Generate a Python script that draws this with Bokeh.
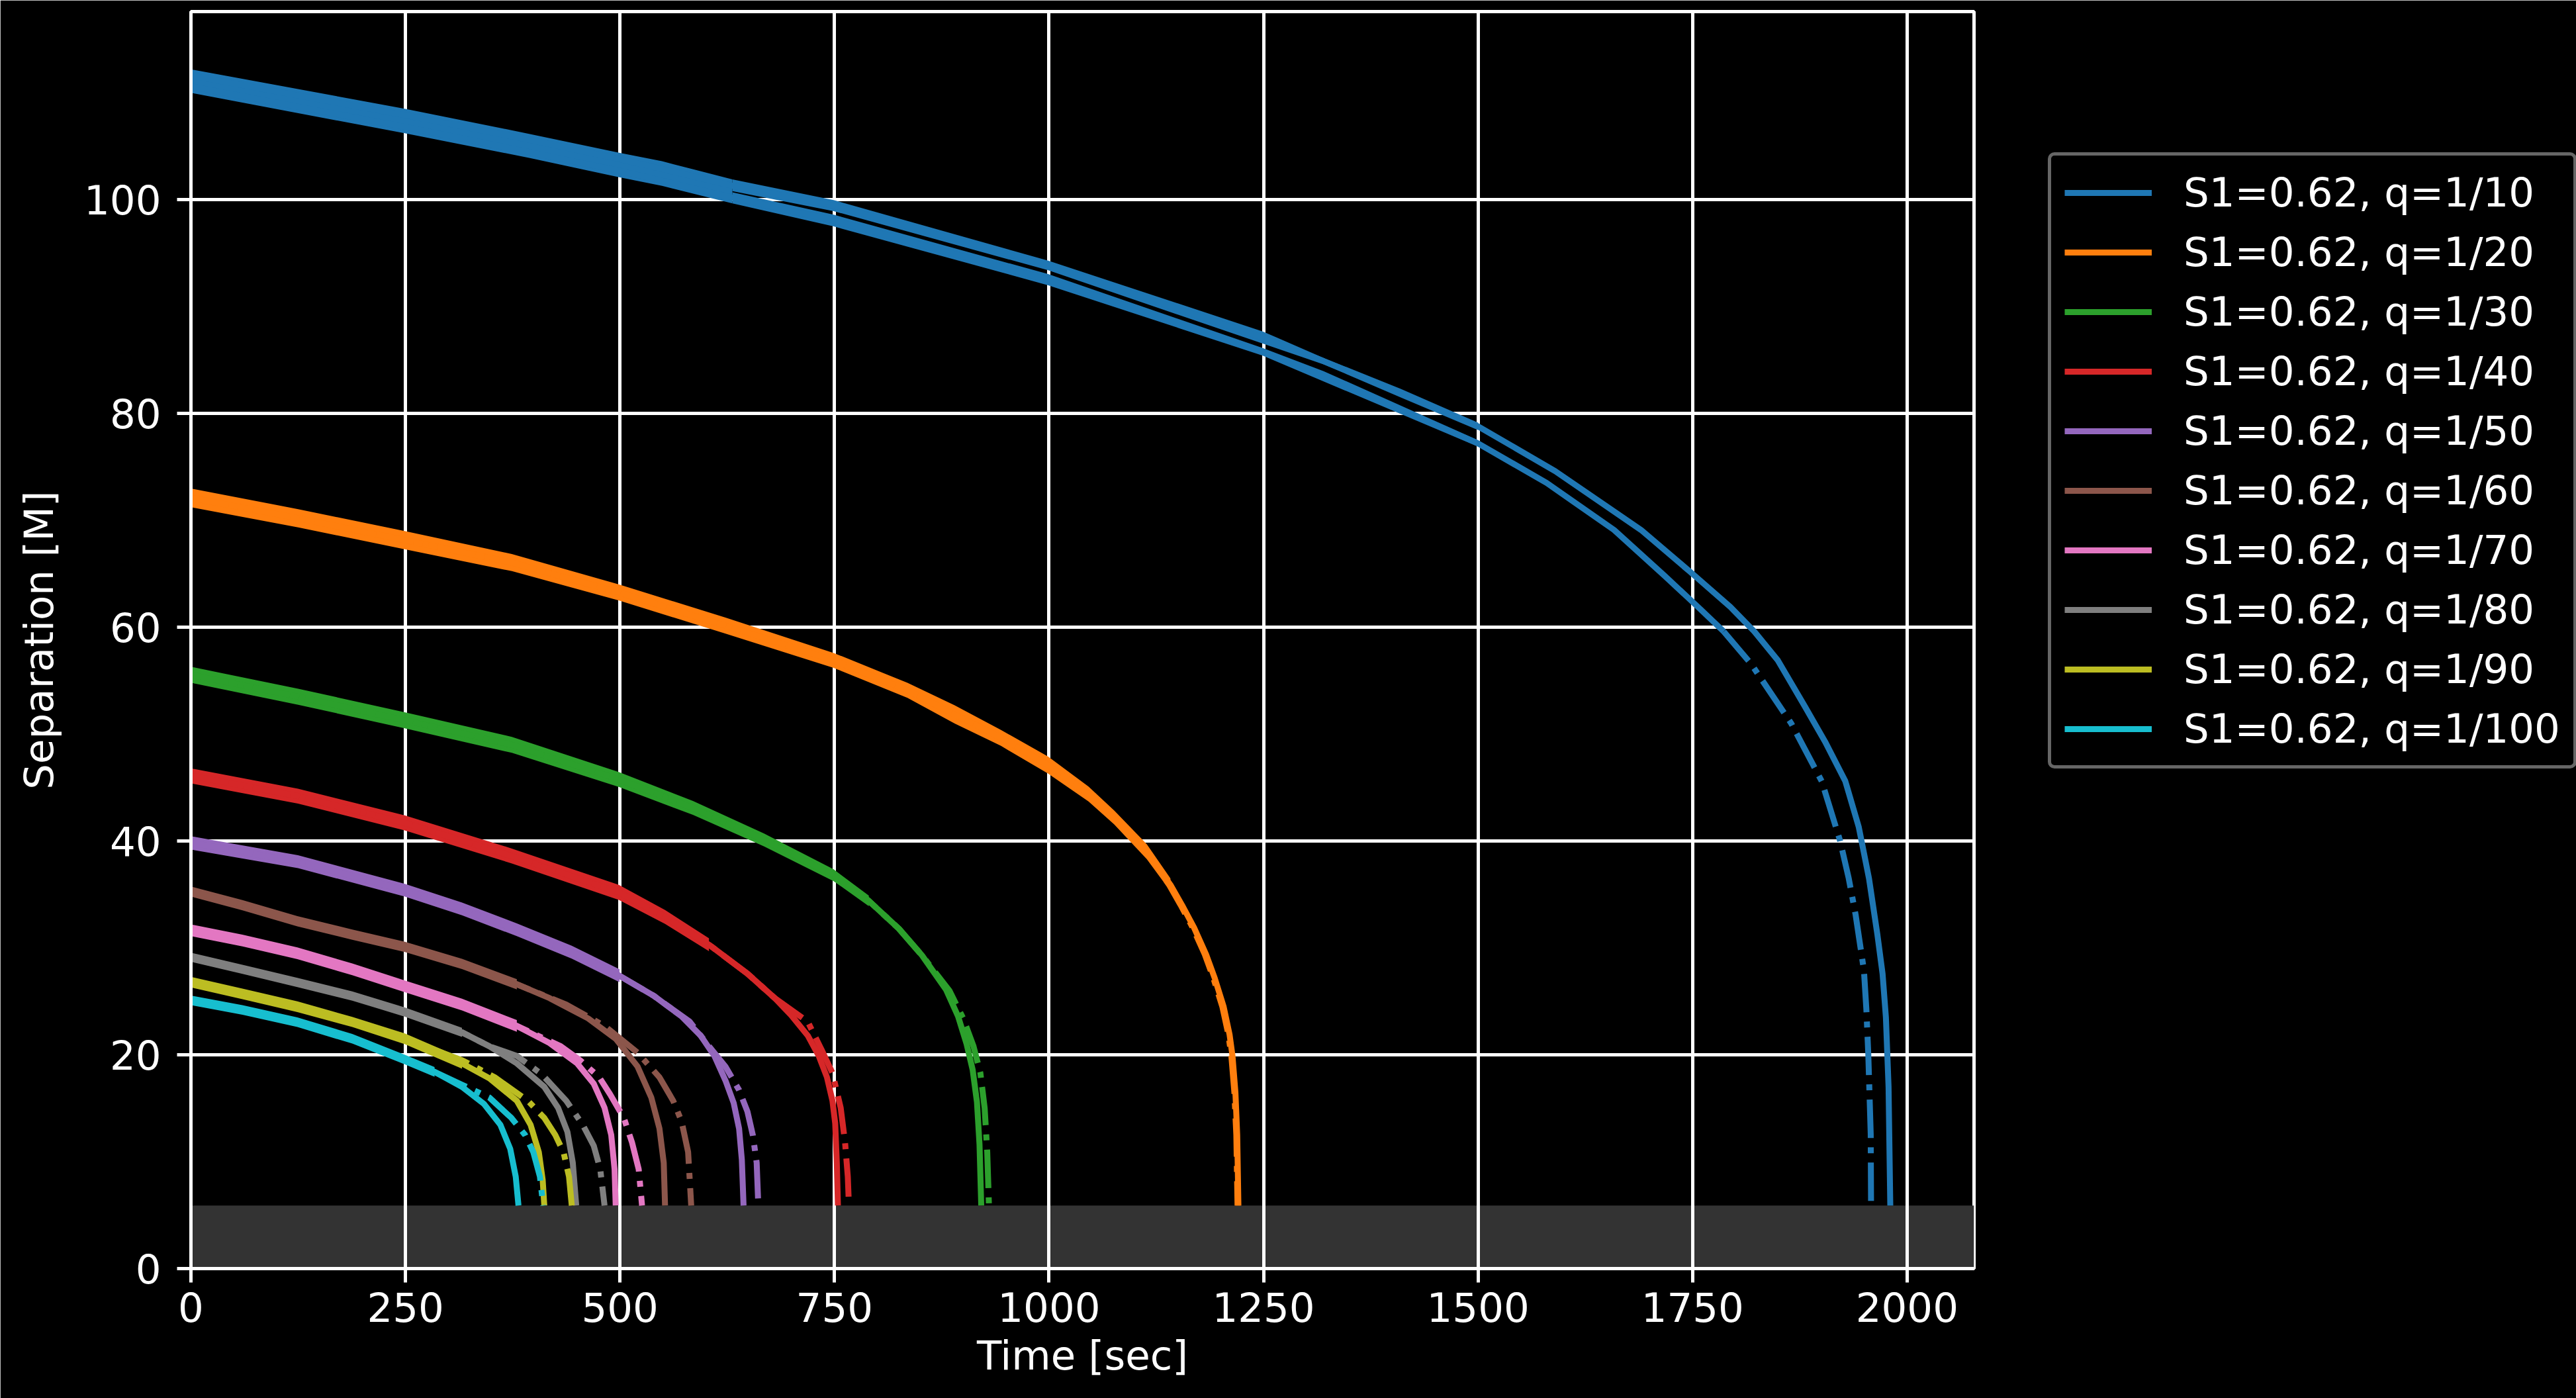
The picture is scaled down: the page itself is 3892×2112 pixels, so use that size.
import numpy as np
from bokeh.plotting import figure
from bokeh.models import Legend, LegendItem, FixedTicker, BoxAnnotation, Range1d
from bokeh.embed import file_html
from bokeh.resources import INLINE

# ---------------- data ----------------
labels = ["S1=0.62, q=1/10", "S1=0.62, q=1/20", "S1=0.62, q=1/30", "S1=0.62, q=1/40",
          "S1=0.62, q=1/50", "S1=0.62, q=1/60", "S1=0.62, q=1/70", "S1=0.62, q=1/80",
          "S1=0.62, q=1/90", "S1=0.62, q=1/100"]
colors = ["#1f77b4", "#ff7f0e", "#2ca02c", "#d62728", "#9467bd",
          "#8c564b", "#e377c2", "#7f7f7f", "#bcbd22", "#17becf"]

x_ticks = [0, 250, 500, 750, 1000, 1250, 1500, 1750, 2000]
y_ticks = [0, 20, 40, 60, 80, 100]
isco_band = [0, 5.9]

# q = 1/10  (solid, dash-dot, and the thick early envelopes)
t_q10 = [0, 250, 395, 500, 631, 749, 999, 1249, 1320, 1410, 1500, 1590, 1690, 1747, 1794, 1822, 1849.4, 1880.8, 1904.4, 1928, 1943.7, 1955.6, 1965.3, 1971.4, 1975.3, 1978.4, 1980.4]
r_q10 = [111.6, 107.9, 105.6, 103.8, 101.3, 99.45, 93.85, 87.1, 84.9, 81.9, 78.8, 74.6, 69.1, 65.2, 61.9, 59.6, 56.9, 52.6, 49.3, 45.6, 41.3, 36.5, 31.3, 27.6, 23.5, 17.0, 5.9]
td_q10 = [0, 250, 395, 500, 631, 749, 999, 1249, 1320, 1500, 1580, 1658.5, 1717.6, 1759, 1786.3, 1818, 1865, 1900.5, 1922, 1932, 1940, 1949.7, 1952.5, 1954.8, 1957.6, 1958]
rd_q10 = [110.6, 106.8, 104.45, 102.7, 100.2, 98.05, 92.5, 85.8, 83.5, 77.2, 73.5, 69.1, 64.8, 61.7, 59.6, 56.6, 51.0, 45.6, 40.0, 36.5, 33.1, 27.9, 24.3, 20.0, 12.6, 5.9]
ht_q10 = [0, 250, 395, 499, 549, 631]
hh_q10 = [112.2, 108.5, 106.15, 104.4, 103.6, 101.9]
hl_q10 = [110.0, 106.2, 103.9, 102.1, 101.3, 99.65]
ht2_q10 = [631, 749, 999, 1249, 1320, 1410, 1500]
hh2_q10 = [101.9, 99.96, 94.3, 87.68, 85.2, 82.3, 79.15]
hl2_q10 = [100.8, 98.93, 93.4, 86.54, 84.6, 81.5, 78.45]
ht3_q10 = [631, 749, 999, 1249, 1320, 1500]
hh3_q10 = [100.7, 98.6, 93.04, 86.13, 83.96, 77.5]
hl3_q10 = [99.65, 97.5, 92.0, 85.41, 83.0, 76.9]

# q = 1/20
t_q20 = [0, 125, 249, 374, 499, 623, 749, 835, 890, 944, 999, 1046, 1076, 1114, 1141.5, 1155, 1169, 1183, 1193, 1203.5, 1210.4, 1213.8, 1217.2, 1219.3, 1220.7]
r_q20 = [72.1, 70.2, 68.15, 66.05, 63.25, 60.15, 56.9, 54.1, 51.85, 49.65, 47.1, 44.4, 42.2, 39.0, 35.9, 34.0, 31.9, 29.4, 27.2, 24.5, 21.9, 19.9, 16.5, 12.5, 5.9]
td_q20 = [0, 125, 249, 374, 499, 623, 749, 835, 890, 944, 999, 1046, 1076, 1114, 1140, 1153.5, 1167.5, 1181.5, 1191.5, 1202, 1209, 1212.5, 1216, 1218.3, 1219.7]
rd_q20 = [72.1, 70.2, 68.15, 66.05, 63.25, 60.15, 56.9, 54.1, 51.85, 49.65, 47.1, 44.4, 42.2, 39.0, 35.9, 34.0, 31.9, 29.4, 27.2, 24.5, 21.9, 19.9, 16.5, 12.5, 5.9]
ht_q20 = [0, 125, 249, 374, 499, 623, 749, 835, 890, 944, 999, 1046, 1076, 1114, 1141.5]
hh_q20 = [72.98, 71.05, 69.0, 66.85, 64.0, 60.9, 57.6, 54.8, 52.7, 50.4, 47.9, 45.1, 42.85, 39.7, 36.5]
hl_q20 = [71.23, 69.35, 67.3, 65.25, 62.5, 59.4, 56.2, 53.4, 51.0, 48.9, 46.3, 43.7, 41.55, 38.3, 35.3]

# q = 1/30
t_q30 = [0, 125, 249, 374, 499, 585, 668, 749, 790, 825, 852, 880, 894, 904, 911, 916, 919, 921]
r_q30 = [55.55, 53.5, 51.3, 49.0, 45.75, 43.1, 40.1, 36.8, 34.4, 31.8, 29.3, 26.1, 23.6, 21.0, 18.6, 15.6, 11.6, 5.9]
td_q30 = [0, 125, 249, 374, 499, 585, 668, 749, 790, 825, 852, 884, 900, 912, 920, 925, 928, 930]
rd_q30 = [55.55, 53.5, 51.3, 49.0, 45.75, 43.1, 40.1, 36.8, 34.4, 31.8, 29.3, 26.0, 23.4, 20.8, 18.3, 15.0, 10.9, 5.9]
ht_q30 = [0, 125, 249, 374, 499, 585, 668, 749, 790]
hh_q30 = [56.3, 54.25, 52.05, 49.75, 46.45, 43.75, 40.7, 37.35, 34.9]
hl_q30 = [54.8, 52.75, 50.55, 48.25, 45.05, 42.45, 39.5, 36.25, 33.9]

# q = 1/40
t_q40 = [0, 124.7, 249, 374, 498.6, 552.5, 603.7, 648.5, 680.4, 699.6, 718.8, 731.6, 741.2, 747.6, 750.8, 752.7, 754]
r_q40 = [46.1, 44.2, 41.7, 38.6, 35.2, 32.9, 30.3, 27.6, 25.3, 23.7, 21.8, 19.9, 17.9, 15.7, 13.6, 9.9, 5.9]
td_q40 = [0, 124.7, 249, 374, 498.6, 552.5, 603.7, 648.5, 680.4, 718.8, 734.8, 747.6, 757.2, 762.3, 765.5, 766.8]
rd_q40 = [46.1, 44.2, 41.7, 38.6, 35.2, 32.9, 30.3, 27.6, 25.3, 23.1, 20.5, 18.3, 15.05, 11.8, 8.6, 5.9]
ht_q40 = [0, 124.7, 249, 374, 498.6, 552.5, 603.7]
hh_q40 = [46.8, 44.9, 42.4, 39.3, 35.9, 33.55, 30.9]
hl_q40 = [45.4, 43.5, 41.0, 37.9, 34.5, 32.25, 29.7]

# q = 1/50
t_q50 = [0, 124.7, 249.3, 315.9, 379.8, 443.8, 499.4, 539.7, 571.7, 594, 610, 622.9, 632.5, 638.8, 642, 644]
r_q50 = [39.84, 38.07, 35.4, 33.65, 31.7, 29.6, 27.4, 25.5, 23.6, 21.8, 19.9, 17.6, 15.5, 13.1, 10.2, 5.9]
td_q50 = [0, 124.7, 249.3, 315.9, 379.8, 443.8, 499.4, 539.7, 581.3, 603.7, 622.9, 638.8, 648.5, 654.8, 659.3, 661.2]
rd_q50 = [39.84, 38.07, 35.4, 33.65, 31.7, 29.6, 27.4, 25.5, 23.1, 20.8, 18.9, 16.7, 14.7, 12.5, 9.9, 5.9]
ht_q50 = [0, 124.7, 249.3, 315.9, 379.8, 443.8, 499.4]
hh_q50 = [40.45, 38.67, 36.0, 34.25, 32.3, 30.2, 28.0]
hl_q50 = [39.2, 37.47, 34.8, 33.05, 31.1, 29.0, 26.8]

# q = 1/60
t_q60 = [0, 60, 124, 188, 249.3, 315.9, 379.8, 418, 463, 495, 520.5, 536.5, 546, 551, 552.5]
r_q60 = [35.25, 34.0, 32.5, 31.25, 30.1, 28.5, 26.6, 25.3, 23.4, 21.5, 18.9, 16.0, 13.1, 9.9, 5.9]
td_q60 = [0, 60, 124, 188, 249.3, 315.9, 379.8, 437.4, 482, 520.5, 546, 562, 571.7, 579.4, 583]
rd_q60 = [35.25, 34.0, 32.5, 31.25, 30.1, 28.5, 26.6, 24.7, 22.7, 20.2, 17.9, 15.7, 13.8, 10.9, 5.9]
ht_q60 = [0, 60, 124, 188, 249.3, 315.9, 379.8]
hh_q60 = [35.75, 34.48, 32.98, 31.73, 30.58, 28.98, 27.08]
hl_q60 = [34.8, 33.52, 32.02, 30.77, 29.62, 28.02, 26.12]

# q = 1/70
t_q70 = [0, 60, 124, 188, 249.3, 315.9, 379.8, 418, 450, 469.4, 482, 489.8, 493.7, 495]
r_q70 = [31.66, 30.7, 29.5, 28.0, 26.4, 24.7, 22.7, 21.1, 19.2, 17.3, 15.05, 12.5, 9.3, 5.9]
td_q70 = [0, 60, 124, 188, 249.3, 315.9, 379.8, 431, 453.4, 475.8, 488.5, 504.5, 514, 521.8, 525.7]
rd_q70 = [31.66, 30.7, 29.5, 28.0, 26.4, 24.7, 22.7, 20.8, 19.5, 17.9, 16.3, 14.1, 11.8, 9.3, 5.9]
ht_q70 = [0, 60, 124, 188, 249.3, 315.9, 379.8]
hh_q70 = [32.2, 31.25, 30.05, 28.55, 26.95, 25.25, 23.25]
hl_q70 = [31.1, 30.15, 28.95, 27.45, 25.85, 24.15, 22.15]

# q = 1/80
t_q80 = [0, 60, 124, 188, 249.3, 315.9, 347.8, 379.8, 411.8, 427.8, 438.7, 445, 449]
r_q80 = [29.13, 28.0, 26.76, 25.5, 24.0, 22.1, 20.8, 19.2, 17.0, 15.05, 12.8, 9.9, 5.9]
td_q80 = [0, 60, 124, 188, 249.3, 315.9, 347.8, 379.8, 408.6, 437.4, 456.6, 469.4, 477, 482]
rd_q80 = [29.13, 28.0, 26.76, 25.5, 24.0, 22.1, 20.8, 19.9, 18.2, 15.7, 13.45, 11.5, 9.3, 5.9]
ht_q80 = [0, 60, 124, 188, 249.3, 315.9]
hh_q80 = [29.55, 28.43, 27.2, 25.93, 24.43, 22.53]
hl_q80 = [28.7, 27.57, 26.33, 25.07, 23.57, 21.67]

# q = 1/90
t_q90 = [0, 60, 124, 188, 249.3, 315.9, 347.8, 379.8, 395.8, 405.4, 409.9, 411.8]
r_q90 = [26.82, 25.7, 24.5, 23.07, 21.5, 19.2, 17.8, 15.7, 13.45, 10.9, 8.3, 5.9]
td_q90 = [0, 60, 124, 188, 249.3, 315.9, 354, 392.6, 411.8, 424.6, 434.2, 440.6, 443.8]
rd_q90 = [26.82, 25.7, 24.5, 23.07, 21.5, 19.5, 17.9, 15.7, 14.1, 12.5, 10.9, 8.6, 5.9]
ht_q90 = [0, 60, 124, 188, 249.3, 315.9]
hh_q90 = [27.3, 26.2, 25.0, 23.55, 22.0, 19.7]
hl_q90 = [26.3, 25.2, 24.0, 22.6, 21.0, 18.7]

# q = 1/100
t_q100 = [0, 60, 124, 188, 249.3, 283.9, 315.9, 341.5, 360.6, 372.1, 378.5, 381.7]
r_q100 = [25.09, 24.2, 23.07, 21.5, 19.54, 18.4, 17.0, 15.4, 13.45, 11.2, 8.6, 5.9]
td_q100 = [0, 60, 124, 188, 249.3, 283.9, 315.9, 347.8, 373.4, 389.4, 399, 406.7, 410.5]
rd_q100 = [25.09, 24.2, 23.07, 21.5, 19.54, 18.4, 17.2, 16.0, 14.1, 12.5, 10.9, 8.6, 5.9]
ht_q100 = [0, 60, 124, 188, 249.3, 283.9]
hh_q100 = [25.55, 24.65, 23.5, 21.95, 20.0, 18.85]
hl_q100 = [24.65, 23.75, 22.6, 21.05, 19.1, 17.95]

# time after which the dash-dot curve is visibly broken (before that the dense data looks solid)
dash_from = [1786.3, 0, 0, 0, 0, 0, 0, 0, 0, 0]

solids = [(t_q10, r_q10), (t_q20, r_q20), (t_q30, r_q30), (t_q40, r_q40), (t_q50, r_q50),
          (t_q60, r_q60), (t_q70, r_q70), (t_q80, r_q80), (t_q90, r_q90), (t_q100, r_q100)]
dashes = [(td_q10, rd_q10), (td_q20, rd_q20), (td_q30, rd_q30), (td_q40, rd_q40), (td_q50, rd_q50),
          (td_q60, rd_q60), (td_q70, rd_q70), (td_q80, rd_q80), (td_q90, rd_q90), (td_q100, rd_q100)]
hulls = [[(ht_q10, hh_q10, hl_q10), (ht2_q10, hh2_q10, hl2_q10), (ht3_q10, hh3_q10, hl3_q10)],
         [(ht_q20, hh_q20, hl_q20)], [(ht_q30, hh_q30, hl_q30)], [(ht_q40, hh_q40, hl_q40)],
         [(ht_q50, hh_q50, hl_q50)], [(ht_q60, hh_q60, hl_q60)], [(ht_q70, hh_q70, hl_q70)],
         [(ht_q80, hh_q80, hl_q80)], [(ht_q90, hh_q90, hl_q90)], [(ht_q100, hh_q100, hl_q100)]]

# ---------------- figure ----------------
FONT = "DejaVu Sans"
FS = "61px"
LW = 9
GRID_W = 5

p = figure(frame_width=2694, frame_height=1899,
           min_border_left=288, min_border_right=910, min_border_top=17, min_border_bottom=196,
           x_range=Range1d(0, 2078), y_range=Range1d(0, 117.6),
           output_backend="svg", toolbar_location=None,
           background_fill_color="black", border_fill_color="black",
           outline_line_color="white", outline_line_width=GRID_W)

band = BoxAnnotation(bottom=isco_band[0], top=isco_band[1], fill_color="#333333", fill_alpha=1.0,
                     line_alpha=0, level="underlay")
p.center = [band] + list(p.center)

for ax, ticks in ((p.xaxis, x_ticks), (p.yaxis, y_ticks)):
    ax.ticker = FixedTicker(ticks=ticks)
    ax.axis_line_color = "white"
    ax.axis_line_width = GRID_W
    ax.major_tick_line_color = "white"
    ax.major_tick_line_width = GRID_W
    ax.major_tick_out = 21
    ax.major_tick_in = 0
    ax.minor_tick_line_color = None
    ax.major_label_text_color = "white"
    ax.major_label_text_font = FONT
    ax.major_label_text_font_size = FS
    ax.axis_label_text_color = "white"
    ax.axis_label_text_font = FONT
    ax.axis_label_text_font_size = FS
    ax.axis_label_text_font_style = "normal"

p.xaxis.axis_label = "Time [sec]"
p.yaxis.axis_label = "Separation [M]"
p.xaxis.major_label_standoff = 14
p.xaxis.axis_label_standoff = 12
p.yaxis.major_label_standoff = 24
p.yaxis.axis_label_standoff = 30

p.xgrid.ticker = FixedTicker(ticks=x_ticks)
p.ygrid.ticker = FixedTicker(ticks=y_ticks)
for g in (p.xgrid, p.ygrid):
    g.grid_line_color = "white"
    g.grid_line_width = GRID_W

items = []
for i in range(len(labels)):
    c = colors[i]
    for (ht, hh, hl) in hulls[i]:
        p.varea(x=ht, y1=hl, y2=hh, fill_color=c, fill_alpha=1.0)
    ts, rs = solids[i]
    rend = p.line(ts, rs, line_color=c, line_width=LW, line_join="round")
    items.append(LegendItem(label=labels[i], renderers=[rend]))
    td = np.asarray(dashes[i][0], dtype=float)
    rd = np.asarray(dashes[i][1], dtype=float)
    k = int(np.argmax(td >= dash_from[i]))
    if k > 0:
        p.line(td[:k + 1], rd[:k + 1], line_color=c, line_width=LW, line_join="round")
    p.line(td[k:], rd[k:], line_color=c, line_width=LW, line_dash="58 14 9 14")

legend = Legend(items=items, location=(112, 755),
                label_text_color="white", label_text_font=FONT, label_text_font_size=FS,
                glyph_width=132, glyph_height=60, label_height=60, label_standoff=48,
                spacing=19, padding=20, margin=0,
                background_fill_color="black", background_fill_alpha=1.0,
                border_line_color="#cccccc", border_line_width=5)
try:
    legend.border_radius = 10
except Exception:
    pass
p.add_layout(legend, "right")

open("out.html", "w").write(file_html(p, INLINE))
